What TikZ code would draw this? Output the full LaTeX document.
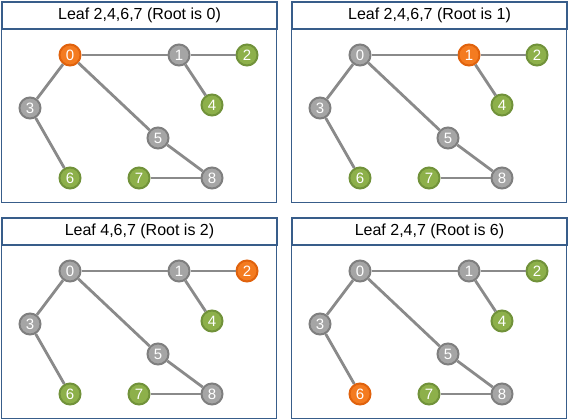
\documentclass[tikz,border=0pt]{standalone}
\usepackage{fontspec}
\setmainfont{Liberation Sans}
\definecolor{frameblue}{HTML}{385D8A}
\definecolor{nodegray}{HTML}{A5A5A5}
\definecolor{graydark}{HTML}{7F7F7F}
\definecolor{leafgreen}{HTML}{8DB04A}
\definecolor{greendark}{HTML}{71923A}
\definecolor{rootorange}{HTML}{F47B20}
\definecolor{orangedark}{HTML}{E0620D}
\definecolor{edgegray}{HTML}{8A8A8A}
\tikzset{
 frame/.style={draw=frameblue, line width=1pt},
 titlebox/.style={draw=frameblue, line width=2pt, fill=white, minimum width=275pt, minimum height=27pt, inner sep=0pt, anchor=north west, font=\fontsize{16}{18}\selectfont},
 vtx/.style={circle, minimum size=21pt, inner sep=0pt, line width=2pt, text=white, font=\fontsize{15}{15}\selectfont},
 innern/.style={vtx, fill=nodegray, draw=graydark},
 leafn/.style={vtx, fill=leafgreen, draw=greendark},
 rootn/.style={vtx, fill=rootorange, draw=orangedark},
 edge/.style={draw=edgegray, line width=2.8pt},
 k0/.style={innern}, k1/.style={innern}, k2/.style={innern},
 k3/.style={innern}, k4/.style={innern}, k5/.style={innern},
 k6/.style={innern}, k7/.style={innern}, k8/.style={innern}
}
\newcommand\mypanel[5]{%
 \begin{scope}[shift={(#2,#3)},#5]
  \draw[frame] (0,27) rectangle (275,201);
  \node[titlebox] (#1t) at (0,0) {#4};
  \foreach \i/\x/\y in {0/69/54,1/178/54,2/246/54,3/29/107,4/211/104,5/157/137,6/69/177,7/138/177,8/211/177}
    \node[k\i] (#1n\i) at (\x,\y) {\i};
  \foreach \a/\b in {0/1,1/2,1/4,0/3,3/6,0/5,5/8,7/8}
    \draw[edge] (#1n\a) -- (#1n\b);
 \end{scope}}
\begin{document}
\begin{tikzpicture}[x=1pt,y=-1pt]
\useasboundingbox (0,0) rectangle (568,420);
\mypanel{pa}{1}{1}{Leaf 2,4,6,7 (Root is 0)}{k0/.style={rootn},k2/.style={leafn},k4/.style={leafn},k6/.style={leafn},k7/.style={leafn}}
\mypanel{pb}{291}{1}{Leaf 2,4,6,7 (Root is 1)}{k1/.style={rootn},k2/.style={leafn},k4/.style={leafn},k6/.style={leafn},k7/.style={leafn}}
\mypanel{pc}{1}{217}{Leaf 4,6,7 (Root is 2)}{k2/.style={rootn},k4/.style={leafn},k6/.style={leafn},k7/.style={leafn}}
\mypanel{pd}{291}{217}{Leaf 2,4,7 (Root is 6)}{k6/.style={rootn},k2/.style={leafn},k4/.style={leafn},k7/.style={leafn}}
\end{tikzpicture}
\end{document}
